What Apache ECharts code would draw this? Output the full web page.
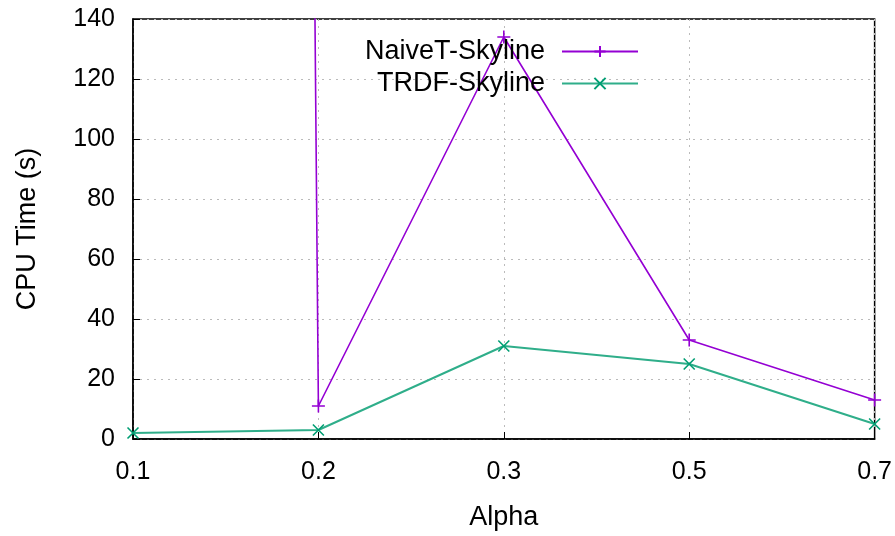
<!DOCTYPE html>
<html>
<head>
<meta charset="utf-8">
<script src="https://cdn.jsdelivr.net/npm/echarts@6/dist/echarts.min.js"></script>
<style>
  html, body { margin: 0; padding: 0; background: #fff; }
  #chart { width: 895px; height: 536px; }
</style>
</head>
<body>
<div id="chart"></div>
<script>
// x categories (alpha values)
var alphas = ["0.1", "0.2", "0.3", "0.5", "0.7"];
// CPU time in seconds
var naiveT = [7000, 11, 134, 33, 13]; // first point is far above the top of the plot
var trdf = [2, 3, 31, 25, 5];
var yTicks = { min: 0, max: 140, step: 20 };

var font = "Liberation Sans, Arial, sans-serif";
var plusSym = "path://M0,-1 L0,1 M-1,0 L1,0";
var crossSym = "path://M-1,-1 L1,1 M-1,1 L1,-1";

var chart = echarts.init(document.getElementById("chart"));

var legendBase = {
  orient: "horizontal",
  align: "right",
  right: 251,
  itemWidth: 76,
  itemHeight: 14,
  textStyle: { fontFamily: font, fontSize: 27, color: "#000", padding: [0, 12, 0, 0] }
};

var option = {
  animation: false,
  textStyle: { fontFamily: font },
  grid: {
    show: true,
    left: 133, right: 20, top: 19, bottom: 96,
    borderColor: "#000", borderWidth: 1.5,
    containLabel: false
  },
  legend: [
    Object.assign({}, legendBase, { top: 33, data: ["NaiveT-Skyline"] }),
    Object.assign({}, legendBase, { top: 65, data: ["TRDF-Skyline"] })
  ],
  xAxis: {
    type: "category",
    data: alphas,
    boundaryGap: false,
    name: "Alpha",
    nameLocation: "middle",
    nameGap: 65,
    nameTextStyle: { fontFamily: font, fontSize: 27, color: "#000" },
    axisLine: { lineStyle: { color: "#000", width: 1.5 } },
    axisTick: { inside: true, length: 7, lineStyle: { color: "#000" } },
    axisLabel: { fontFamily: font, fontSize: 25, color: "#000", margin: 21 },
    splitLine: { show: true, lineStyle: { color: "#bbb", type: [2, 5], width: 1 } }
  },
  yAxis: {
    type: "value",
    min: yTicks.min, max: yTicks.max, interval: yTicks.step,
    name: "CPU Time (s)",
    nameLocation: "middle",
    nameGap: 92,
    nameTextStyle: { fontFamily: font, fontSize: 27, color: "#000" },
    axisLine: { show: true, lineStyle: { color: "#000", width: 1.5 } },
    axisTick: { show: true, inside: true, length: 7, lineStyle: { color: "#000" } },
    axisLabel: { fontFamily: font, fontSize: 25, color: "#000", margin: 18 },
    splitLine: { show: true, lineStyle: { color: "#bbb", type: [2, 5], width: 1 } }
  },
  series: [
    {
      name: "NaiveT-Skyline",
      type: "line",
      data: naiveT,
      clip: true,
      symbol: plusSym,
      symbolSize: 13,
      showAllSymbol: true,
      color: "#9400d3",
      lineStyle: { color: "#9400d3", width: 1.6 },
      itemStyle: { color: "#9400d3", borderColor: "#9400d3", borderWidth: 1.6 }
    },
    {
      name: "TRDF-Skyline",
      type: "line",
      data: trdf,
      clip: true,
      symbol: crossSym,
      symbolSize: 11,
      showAllSymbol: true,
      color: "#009e73",
      lineStyle: { color: "#2fae8a", width: 2 },
      itemStyle: { color: "#009e73", borderColor: "#009e73", borderWidth: 1.6 }
    }
  ]
};

chart.setOption(option);
</script>
</body>
</html>
